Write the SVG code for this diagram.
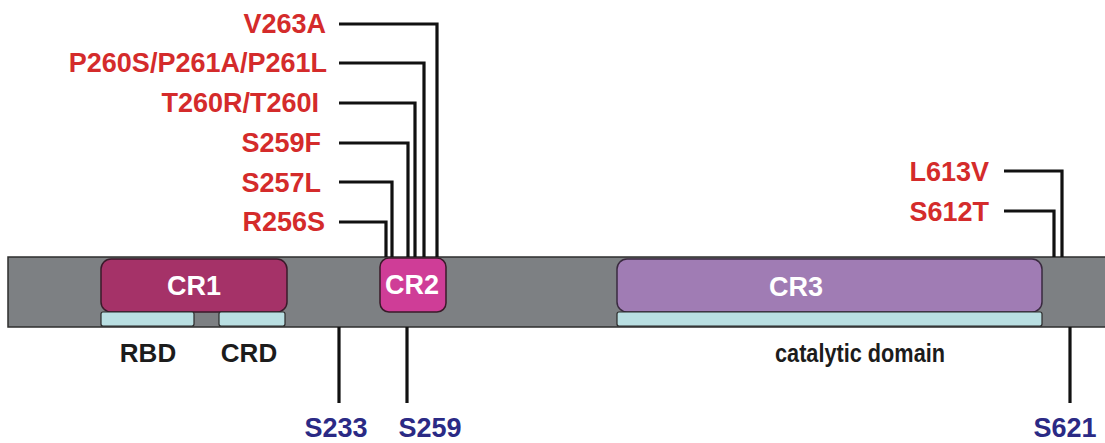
<svg xmlns="http://www.w3.org/2000/svg" width="1105" height="443" viewBox="0 0 1105 443">
  <style>
    .mut { font-family: "Liberation Sans", Arial, sans-serif; font-weight: bold; font-size: 27px; fill: #d42b2b; text-anchor: end; }
    .site { font-family: "Liberation Sans", Arial, sans-serif; font-weight: bold; font-size: 27px; fill: #2b2a85; text-anchor: middle; }
    .dom { font-family: "Liberation Sans", Arial, sans-serif; font-weight: bold; font-size: 26px; fill: #1c1c1c; text-anchor: middle; }
    .cr { font-family: "Liberation Sans", Arial, sans-serif; font-weight: bold; font-size: 27px; fill: #ffffff; text-anchor: middle; }
    .lead { fill: none; stroke: #111111; stroke-width: 3.2; stroke-linejoin: miter; }
    .sub { fill: #b9dfe2; stroke: #2a2a2a; stroke-width: 1.2; }
  </style>

  <rect width="1105" height="443" fill="#ffffff"/>

  <!-- protein backbone -->
  <g id="backbone">
    <rect x="8" y="257" width="1100" height="70" fill="#7d8083" stroke="#2e2e2e" stroke-width="1.5"/>
  </g>

  <!-- conserved region 1 with RBD / CRD -->
  <g id="cr1">
    <rect x="101" y="259" width="186" height="53" rx="10" fill="#a53268" stroke="#3a1a2a" stroke-width="1.5"/>
    <text class="cr" x="194" y="295">CR1</text>
  </g>
  <g id="rbd">
    <rect class="sub" x="101" y="312" width="93" height="14" rx="2"/>
    <text class="dom" x="148" y="362">RBD</text>
  </g>
  <g id="crd">
    <rect class="sub" x="219" y="312" width="66" height="14" rx="2"/>
    <text class="dom" x="249" y="362">CRD</text>
  </g>

  <!-- conserved region 2 -->
  <g id="cr2">
    <rect x="380" y="258" width="66" height="54" rx="9" fill="#cf3d97" stroke="#3a1a2a" stroke-width="1.5"/>
    <text class="cr" x="412" y="294">CR2</text>
  </g>

  <!-- conserved region 3 / catalytic domain -->
  <g id="cr3">
    <rect x="617" y="259" width="425" height="53" rx="10" fill="#a07cb4" stroke="#3a2a40" stroke-width="1.5"/>
    <text class="cr" x="796" y="296">CR3</text>
  </g>
  <g id="catalytic">
    <rect class="sub" x="617" y="312" width="425" height="14" rx="2"/>
    <text class="dom" x="860" y="362" textLength="170" lengthAdjust="spacingAndGlyphs">catalytic domain</text>
  </g>

  <!-- mutation and phosphosite leaders -->
  <g id="connectors">
    <polyline class="lead" points="339,24 437,24 437,257"/>
    <polyline class="lead" points="339,63 424,63 424,257"/>
    <polyline class="lead" points="339,103 415,103 415,257"/>
    <polyline class="lead" points="339,143 408,143 408,257"/>
    <polyline class="lead" points="339,182 392,182 392,257"/>
    <polyline class="lead" points="339,222 386,222 386,257"/>
    <polyline class="lead" points="1004,171 1062,171 1062,257"/>
    <polyline class="lead" points="1004,211 1054,211 1054,257"/>
    <line class="lead" x1="339" y1="327" x2="339" y2="403"/>
    <line class="lead" x1="407" y1="327" x2="407" y2="403"/>
    <line class="lead" x1="1070" y1="327" x2="1070" y2="403"/>
  </g>

  <!-- mutation labels -->
  <g id="m-v263a"><text class="mut" x="326" y="33">V263A</text></g>
  <g id="m-p260s"><text class="mut" x="327" y="72">P260S/P261A/P261L</text></g>
  <g id="m-t260r"><text class="mut" x="319" y="112">T260R/T260I</text></g>
  <g id="m-s259f"><text class="mut" x="321" y="152">S259F</text></g>
  <g id="m-s257l"><text class="mut" x="321" y="192">S257L</text></g>
  <g id="m-r256s"><text class="mut" x="325" y="231">R256S</text></g>
  <g id="m-l613v"><text class="mut" x="989" y="181">L613V</text></g>
  <g id="m-s612t"><text class="mut" x="989" y="221">S612T</text></g>

  <!-- phosphorylation sites -->
  <g id="p-s233"><text class="site" x="336" y="437">S233</text></g>
  <g id="p-s259"><text class="site" x="430" y="437">S259</text></g>
  <g id="p-s621"><text class="site" x="1065" y="437">S621</text></g>
</svg>
